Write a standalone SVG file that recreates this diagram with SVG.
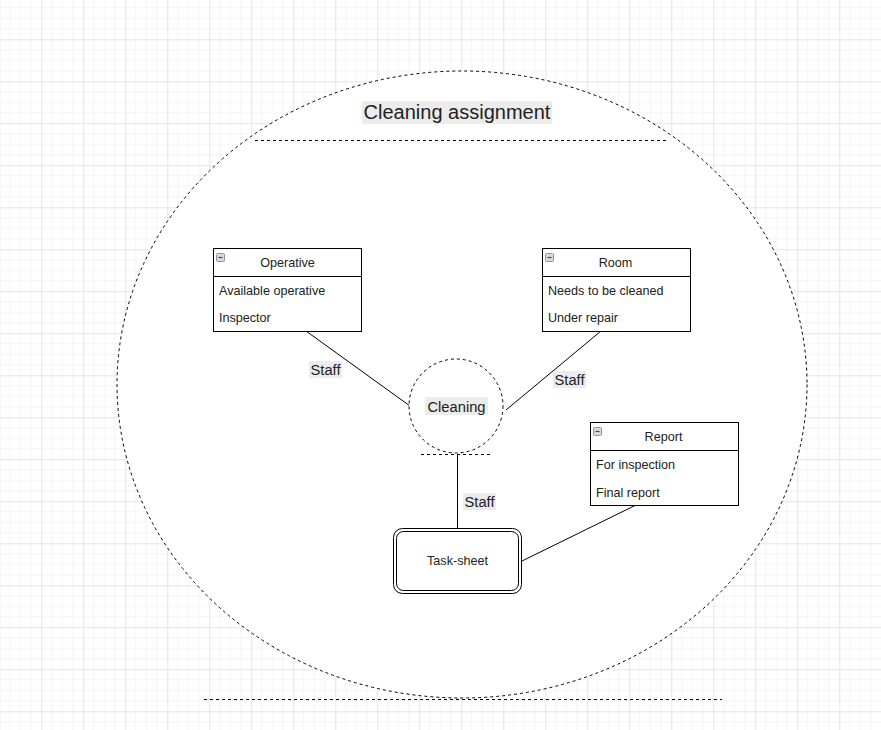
<svg xmlns="http://www.w3.org/2000/svg" width="881" height="730" viewBox="0 0 881 730">
<defs>
<pattern id="grid" patternUnits="userSpaceOnUse" x="-0.7" y="-2.7" width="42" height="42">
<path d="M10.5 0V42M21 0V42M31.5 0V42M0 10.5H42M0 21H42M0 31.5H42" stroke="#f3f3f3" stroke-width="1" fill="none"/>
<path d="M0.5 0V42M0 0.5H42" stroke="#e4e4e4" stroke-width="1" fill="none"/>
</pattern>
<g id="icon">
<rect x="0.5" y="0.5" width="8" height="8" rx="1" fill="#d5dbe2" stroke="#8a97a6"/>
<line x1="2.5" y1="4.5" x2="6.5" y2="4.5" stroke="#404850" stroke-width="1.2"/>
</g>
</defs>
<style>
text{font-family:"Liberation Sans",Arial,sans-serif;fill:#222}
.box{fill:#fff;stroke:#000;stroke-width:1}
.dash{fill:none;stroke:#000;stroke-width:1;stroke-dasharray:3 3}
.conn{stroke:#000;stroke-width:1;fill:none}
.t12{font-size:12.6px}
.lbl{font-size:14.7px}
.bg{fill:#ececec}
</style>
<rect width="881" height="730" fill="#fff"/>
<rect width="881" height="730" fill="url(#grid)"/>

<g id="container">
<ellipse class="dash" cx="462" cy="384.5" rx="345" ry="313.5" fill="#fff" style="fill:#fff"/>
<rect class="bg" x="362" y="101" width="190" height="23"/>
<text x="457" y="119" font-size="20" text-anchor="middle">Cleaning assignment</text>
<line class="dash" x1="255" y1="140.5" x2="668" y2="140.5"/>
<line class="dash" x1="204" y1="699.5" x2="722" y2="699.5"/>
</g>

<g id="connectors">
<line class="conn" x1="306" y1="331" x2="410" y2="406"/>
<line class="conn" x1="601" y1="331" x2="506" y2="410"/>
<line class="conn" x1="457.5" y1="454" x2="457.5" y2="528"/>
<line class="conn" x1="522" y1="561" x2="636" y2="505"/>
<rect class="bg" x="309" y="361" width="33" height="17"/>
<text class="lbl" x="325.5" y="375" text-anchor="middle">Staff</text>
<rect class="bg" x="553" y="371" width="33" height="17"/>
<text class="lbl" x="569.5" y="385" text-anchor="middle">Staff</text>
<rect class="bg" x="463" y="493" width="33" height="17"/>
<text class="lbl" x="479.5" y="507" text-anchor="middle">Staff</text>
</g>

<g id="operative">
<rect class="box" x="213.5" y="248.5" width="148" height="83"/>
<line class="conn" x1="213.5" y1="276.5" x2="361.5" y2="276.5"/>
<use href="#icon" x="216" y="253"/>
<text class="t12" x="287.5" y="266.5" text-anchor="middle">Operative</text>
<text class="t12" x="219" y="295">Available operative</text>
<text class="t12" x="219" y="322">Inspector</text>
</g>

<g id="room">
<rect class="box" x="542.5" y="248.5" width="148" height="83"/>
<line class="conn" x1="542.5" y1="276.5" x2="690.5" y2="276.5"/>
<use href="#icon" x="545" y="253"/>
<text class="t12" x="615.5" y="266.5" text-anchor="middle">Room</text>
<text class="t12" x="548" y="295">Needs to be cleaned</text>
<text class="t12" x="548" y="322">Under repair</text>
</g>

<g id="report">
<rect class="box" x="590.5" y="422.5" width="148" height="83"/>
<line class="conn" x1="590.5" y1="450.5" x2="738.5" y2="450.5"/>
<use href="#icon" x="593" y="427"/>
<text class="t12" x="663.5" y="440.5" text-anchor="middle">Report</text>
<text class="t12" x="596" y="469">For inspection</text>
<text class="t12" x="596" y="497">Final report</text>
</g>

<g id="cleaning">
<circle class="dash" cx="456" cy="406" r="47" style="fill:#fff"/>
<line class="dash" x1="421" y1="454.5" x2="493" y2="454.5"/>
<rect class="bg" x="425" y="397" width="63" height="18"/>
<text class="lbl" x="456.5" y="411.5" text-anchor="middle">Cleaning</text>
</g>

<g id="task-sheet">
<rect x="393.5" y="528.5" width="128" height="65" rx="9" fill="#fff" stroke="#000"/>
<rect x="396.5" y="531.5" width="122" height="59" rx="7" fill="none" stroke="#000"/>
<text class="t12" x="457.5" y="565" text-anchor="middle">Task-sheet</text>
</g>
</svg>
